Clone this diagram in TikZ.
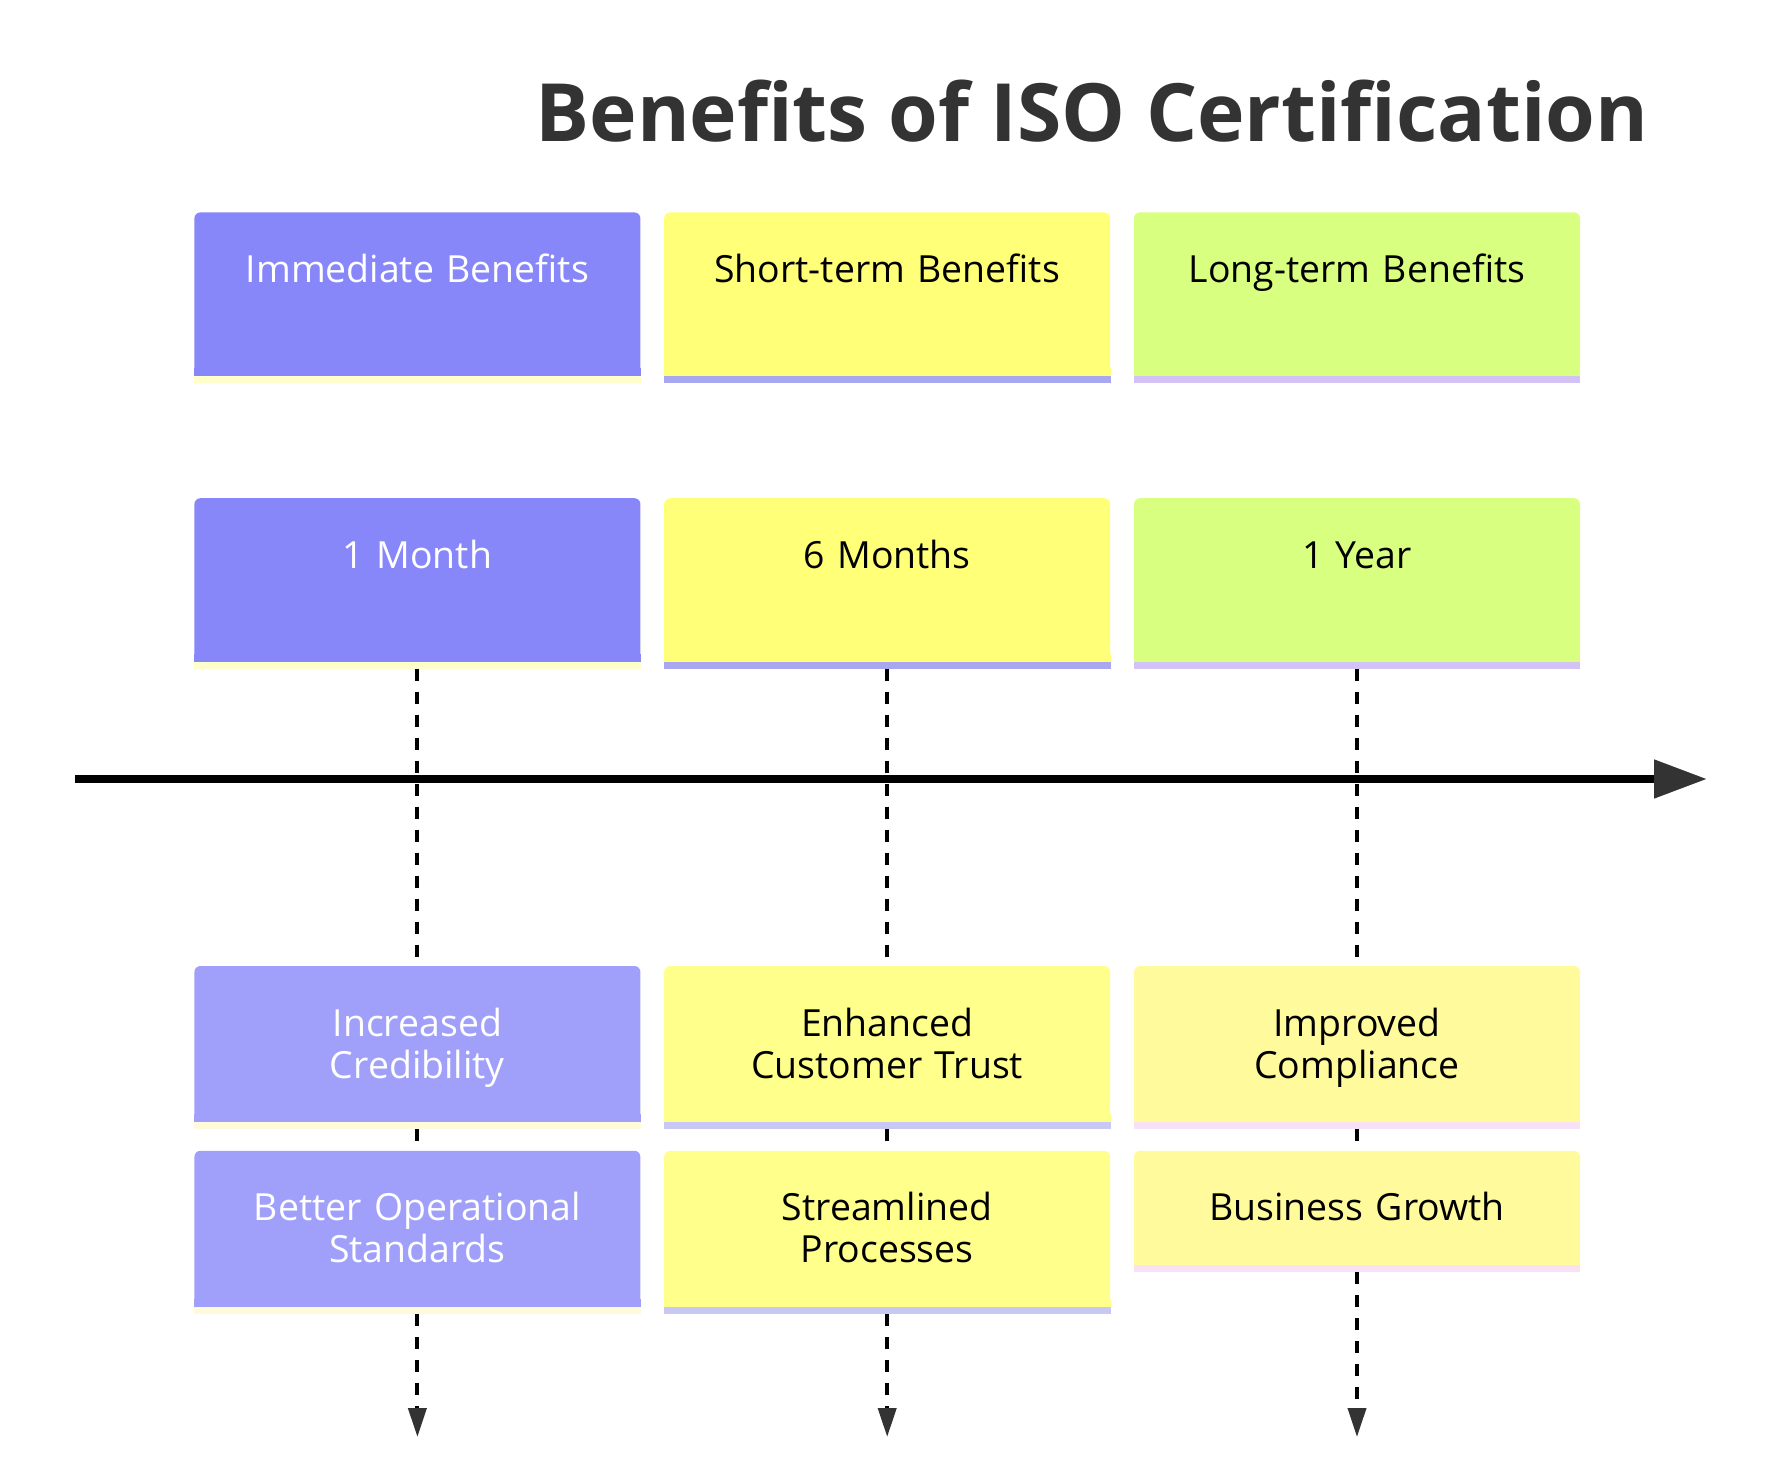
\documentclass[tikz,border=0pt]{standalone}
\usepackage{fontspec}
\setmainfont{Open Sans}
\usepackage{tikz}
\usetikzlibrary{positioning,arrows.meta}
\definecolor{purpA}{HTML}{8787F9}
\definecolor{purpB}{HTML}{A0A0FA}
\definecolor{yelA}{HTML}{FFFF78}
\definecolor{yelB}{HTML}{FFFF8C}
\definecolor{yelC}{HTML}{FFFA9C}
\definecolor{grnA}{HTML}{D9FF80}
\definecolor{stripY}{HTML}{FFFFCC}
\definecolor{stripYB}{HTML}{FFFADA}
\definecolor{stripP}{HTML}{A8A8F0}
\definecolor{stripPB}{HTML}{C8C8F5}
\definecolor{stripL}{HTML}{D2C2F5}
\definecolor{stripK}{HTML}{F8E0F5}
\definecolor{headgray}{HTML}{333333}
\tikzstyle{box} = [rectangle, rounded corners=3pt, inner sep=0pt, text width=223pt, align=center, text height=35pt, font=\fontsize{18.7pt}{21pt}\selectfont]
\tikzstyle{tall} = [box, text depth=46.5pt]
\tikzstyle{evt} = [box, text depth=43pt]
\tikzstyle{evtone} = [box, text depth=22pt]
\tikzstyle{heading} = [anchor=base, text=headgray, font=\fontsize{40.2pt}{46pt}\selectfont\bfseries]
\tikzstyle{axis} = [line width=4pt, -{Triangle[length=26.5pt,width=18.5pt,color=headgray]}]
\tikzstyle{tick} = [dash pattern=on 6pt off 5.5pt, line width=2pt, shorten <=3.5pt]
\tikzstyle{tickend} = [tick, -{Triangle[length=14.5pt,width=9pt,color=headgray]}]

\begin{document}
\begin{tikzpicture}[x=0.5pt, y=-0.5pt]
	\useasboundingbox (0,0) rectangle (1790,1470);
	\node (title) [heading] at (1092,142) {Benefits of ISO Certification};
	% periods
	\node (h1) [tall, fill=purpA, text=white, anchor=north west] at (194,212) {Immediate Benefits};
	\node (h2) [tall, fill=yelA, right=11.5pt of h1] {Short-term Benefits};
	\node (h3) [tall, fill=grnA, right=11.5pt of h2] {Long-term Benefits};
	\node (m1) [tall, fill=purpA, text=white, below=61pt of h1] {1 Month};
	\node (m2) [tall, fill=yelA, below=61pt of h2] {6 Months};
	\node (m3) [tall, fill=grnA, below=61pt of h3] {1 Year};
	% events
	\node (c1) [evt, fill=purpB, text=white, below=152pt of m1] {Increased\\Credibility};
	\node (c2) [evt, fill=yelB, below=152pt of m2] {Enhanced\\Customer Trust};
	\node (c3) [evt, fill=yelC, below=152pt of m3] {Improved\\Compliance};
	\node (s1) [evt, fill=purpB, text=white, below=14pt of c1] {Better Operational\\Standards};
	\node (s2) [evt, fill=yelB, below=14pt of c2] {Streamlined\\Processes};
	\node (s3) [evtone, fill=yelC, below=14pt of c3] {Business Growth};
	\foreach \n/\f/\s in {h1/purpA/stripY, h2/yelA/stripP, h3/grnA/stripL,
		m1/purpA/stripY, m2/yelA/stripP, m3/grnA/stripL,
		c1/purpB/stripYB, c2/yelB/stripPB, c3/yelC/stripK,
		s1/purpB/stripYB, s2/yelB/stripPB, s3/yelC/stripK}
	{
		\fill [\f] ([yshift=4pt]\n.south west) rectangle (\n.south east);
		\fill [\s] (\n.south west) rectangle ([yshift=-3.5pt]\n.south east);
	}
	% timeline
	\coordinate (tl) at (75,779);
	\coordinate (tr) at (1707,779);
	\coordinate (bot) at (0,1437);
	\draw [axis] (tl) -- (tr);
	\foreach \i in {1,2,3}
	{
		\coordinate (e\i) at (s\i.south |- bot);
		\draw [tick] (m\i.south) -- (c\i.north);
		\draw [tick] (c\i.south) -- (s\i.north);
		\draw [tickend] (s\i.south) -- (e\i);
	}
\end{tikzpicture}
\end{document}
